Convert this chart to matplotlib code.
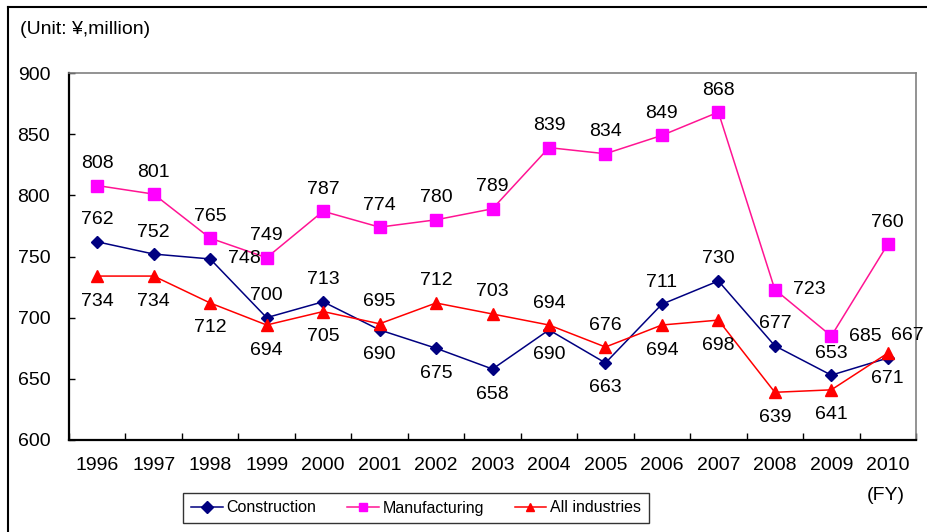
import matplotlib
matplotlib.use("Agg")
import matplotlib.pyplot as plt
from matplotlib.lines import Line2D
import numpy as np

years = ["1996", "1997", "1998", "1999", "2000", "2001", "2002", "2003",
         "2004", "2005", "2006", "2007", "2008", "2009", "2010"]
construction = [762, 752, 748, 700, 713, 690, 675, 658, 690, 663, 711, 730, 677, 653, 667]
manufacturing = [808, 801, 765, 749, 787, 774, 780, 789, 839, 834, 849, 868, 723, 685, 760]
all_industries = [734, 734, 712, 694, 705, 695, 712, 703, 694, 676, 694, 698, 639, 641, 671]

# label placement codes: a = above, b = below, r = right, q = right-up
pos_con = list("aaraabbbbbaaaaq")
pos_man = list("aaaaaaaaaaaarra")
pos_all = list("bbbbbaaaaabbbbb")

plt.rcParams['font.family'] = ['Liberation Sans', 'DejaVu Sans']
W, H = 928, 532
fig = plt.figure(figsize=(W / 100, H / 100), dpi=100)
ax = fig.add_axes([69 / W, 1 - 440 / H, (916 - 69) / W, (440 - 73) / H])

x = np.arange(len(years))
ax.plot(x, construction, color="#000080", lw=1.1, marker="D", ms=6.5,
        mfc="#000080", mec="#000080", label="Construction", zorder=3)
ax.plot(x, manufacturing, color="#FF1493", lw=1.1, marker="s", ms=8.5,
        mfc="#FF00FF", mec="#FF00FF", label="Manufacturing", zorder=3)
ax.plot(x, all_industries, color="#FF0000", lw=1.1, marker="^", ms=9,
        mfc="#FF0000", mec="#FF0000", label="All industries", zorder=4)

FS = 14
offs = {"a": (0, 22), "b": (0, -25), "r": (34, 0), "q": (20, 23)}
for vals, poss in ((construction, pos_con), (manufacturing, pos_man), (all_industries, pos_all)):
    for i, (v, p) in enumerate(zip(vals, poss)):
        dx, dy = offs[p]
        ax.annotate(str(v), (i, v), xytext=(dx, dy), textcoords="offset pixels",
                    ha="center", va="center", fontsize=FS, color="black", zorder=5)

ax.set_xlim(-0.5, len(years) - 0.5)
ax.set_ylim(600, 900)
ax.set_yticks(np.arange(600, 901, 50))
ax.set_xticks(x)
ax.set_xticklabels(years)
ax.set_xticks(np.arange(-0.5, len(years), 1.0), minor=True)
ax.tick_params(axis="x", which="major", length=0, pad=12, labelsize=FS)
ax.tick_params(axis="x", which="minor", direction="in", length=5, width=1)
ax.tick_params(axis="y", direction="in", length=4, width=1, pad=13.5, labelsize=FS)
for s in ("left", "bottom"):
    ax.spines[s].set_color("black")
    ax.spines[s].set_linewidth(1.6)
for s in ("top", "right"):
    ax.spines[s].set_color("#808080")
    ax.spines[s].set_linewidth(1.2)

fig.text(20 / W, 1 - 30 / H, "(Unit: ¥,million)", ha="left", va="center", fontsize=FS)
fig.text(886 / W, 1 - 495 / H, "(FY)", ha="center", va="center", fontsize=FS)

leg = fig.legend(loc="center", bbox_to_anchor=(416 / W, 1 - 508 / H), ncol=3,
                 fontsize=11.5, frameon=True, fancybox=False, handlelength=2.0,
                 columnspacing=1.9, handletextpad=0.25, borderpad=0.45,
                 borderaxespad=0)
leg.get_frame().set_edgecolor("black")
leg.get_frame().set_linewidth(1.0)
for h in leg.legend_handles:
    h.set_markersize(6)

fig.add_artist(Line2D([8 / W, 1], [1 - 7 / H, 1 - 7 / H], color="black", lw=1.5,
                      transform=fig.transFigure))
fig.add_artist(Line2D([8 / W, 8 / W], [1 - 7 / H, 0], color="black", lw=1.5,
                      transform=fig.transFigure))

fig.savefig("out.png", dpi=100)
